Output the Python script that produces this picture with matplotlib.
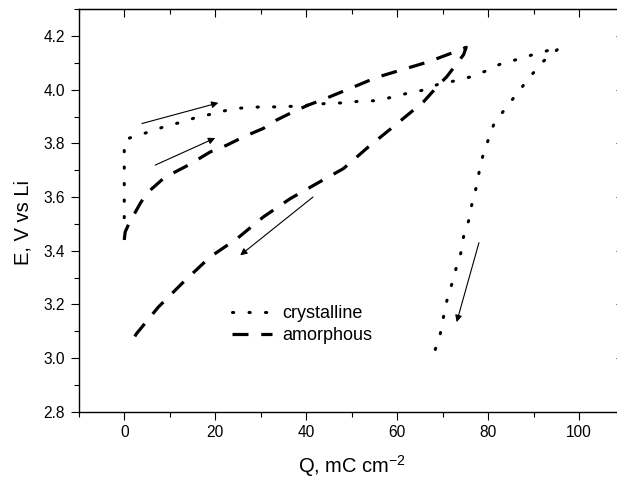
import numpy as np
import matplotlib
matplotlib.use("Agg")
import matplotlib.pyplot as plt
from matplotlib.ticker import MultipleLocator

plt.rcParams['font.family'] = ['Liberation Sans', 'DejaVu Sans']

# crystalline film: charge then discharge (Q in mC cm-2, E in V vs Li)
q_cryst = [0, 0, 0, 0.3, 2.4, 6.3, 9.7, 13, 16.3, 19.6, 23.3, 27, 30.6, 34.3,
           37.9, 40.9, 44.5, 48.2, 51.7, 55.2, 58.6, 62.1, 65.6, 69.0, 72.7,
           76.2, 79.7, 83, 86.7, 90.3, 93.6, 95.7,
           92.3, 89.2, 86.4, 83.7, 81.2, 79.9, 78.8, 78.0, 77.3, 76.4, 75.7,
           74.6, 74.0, 72.9, 72.0, 70.9, 70.2, 69.5, 68.4]
e_cryst = [3.47, 3.65, 3.79, 3.815, 3.827, 3.847, 3.868, 3.88, 3.90, 3.91,
           3.927, 3.934, 3.936, 3.936, 3.939, 3.943, 3.949, 3.951, 3.957,
           3.959, 3.971, 3.986, 3.998, 4.02, 4.033, 4.048, 4.071, 4.098,
           4.114, 4.133, 4.148, 4.156,
           4.108, 4.048, 3.986, 3.928, 3.868, 3.806, 3.75, 3.69, 3.629, 3.57,
           3.51, 3.451, 3.391, 3.33, 3.274, 3.211, 3.153, 3.091, 3.032]

# amorphous film
q_amor = [0, 0.2, 1, 3.5, 5.0, 8.6, 10.8, 14.1, 18.9, 22.5, 26.2, 30.6, 33.5,
          37.2, 40.5, 43.8, 49.7, 55.5, 61.4, 66.9, 72.7, 75.2,
          74.6, 70.9, 69.5, 65.8, 59.6, 53.7, 48.2, 42.3, 36.5, 30.6, 24.8,
          18.9, 13.0, 7.5, 2.7, 2.0]
e_amor = [3.44, 3.47, 3.50, 3.576, 3.615, 3.669, 3.69, 3.719, 3.768, 3.793,
          3.824, 3.856, 3.887, 3.918, 3.943, 3.964, 4.005, 4.046, 4.076, 4.104,
          4.141, 4.158,
          4.13, 4.048, 4.024, 3.955, 3.868, 3.787, 3.706, 3.65, 3.594, 3.526,
          3.445, 3.377, 3.283, 3.19, 3.091, 3.072]

# arrows: (tail Q, tail E, head Q, head E)
arrows = [(3.9, 3.874, 20.7, 3.951),
          (6.8, 3.719, 20.0, 3.82),
          (41.5, 3.60, 25.5, 3.383),
          (78.0, 3.43, 73.1, 3.134)]

fig = plt.figure(figsize=(6.17, 4.8), dpi=100)
ax = fig.add_axes([0.1277, 0.1423, 0.8844, 0.8385])

# drawn from the discharge end so a dot sits at the last point
ax.plot(q_cryst[::-1], e_cryst[::-1], color='black', lw=2.2, dashes=(0.4, 5.0),
        dash_capstyle='round', label='crystalline')
ax.plot(q_amor, e_amor, color='black', lw=2.3, dashes=(5, 4),
        dash_capstyle='butt', label='amorphous')

for x0, y0, x1, y1 in arrows:
    ax.annotate('', xy=(x1, y1), xytext=(x0, y0),
                arrowprops=dict(arrowstyle='-|>', color='black', lw=0.8,
                                mutation_scale=10, shrinkA=0, shrinkB=0))

ax.set_xlim(-10, 110)
ax.set_ylim(2.8, 4.3)
ax.xaxis.set_major_locator(MultipleLocator(20))
ax.xaxis.set_minor_locator(MultipleLocator(10))
ax.yaxis.set_major_locator(MultipleLocator(0.2))
ax.yaxis.set_minor_locator(MultipleLocator(0.1))
ax.yaxis.set_major_formatter(plt.FormatStrFormatter('%.1f'))
ax.tick_params(which='both', direction='out', top=False, right=False,
               width=0.8, labelsize=11.2, pad=4)
ax.tick_params(which='major', length=5.8)
ax.tick_params(which='minor', length=3.6)
for s in ax.spines.values():
    s.set_linewidth(1.0)

top = ax.secondary_xaxis('top')
top.xaxis.set_major_locator(MultipleLocator(20))
top.xaxis.set_minor_locator(MultipleLocator(10))
top.tick_params(which='both', direction='in', labeltop=False, width=0.8)
top.tick_params(which='major', length=5.8)
top.tick_params(which='minor', length=3.6)
right = ax.secondary_yaxis('right')
right.yaxis.set_major_locator(MultipleLocator(0.2))
right.yaxis.set_minor_locator(MultipleLocator(0.1))
right.tick_params(which='both', direction='in', labelright=False, width=0.8)
right.tick_params(which='major', length=5.8)
right.tick_params(which='minor', length=3.6)

ax.set_xlabel(r'Q, mC cm$^{\mathregular{-2}}$', fontsize=14.5)
ax.set_ylabel('E, V vs Li', fontsize=14.5)
ax.xaxis.set_label_coords(0.5, -0.104)
ax.yaxis.set_label_coords(-0.084, 0.471)

ax.legend(loc='upper left', bbox_to_anchor=(0.281, 0.265), frameon=False,
          fontsize=13, handlelength=2.2, handletextpad=0.6,
          labelspacing=0.3, borderpad=0, borderaxespad=0)

fig.savefig('out.png', dpi=100)
